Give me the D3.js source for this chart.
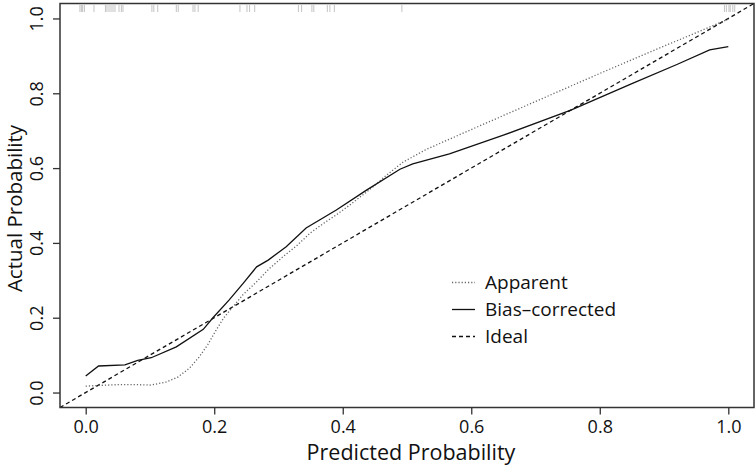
<!DOCTYPE html>
<html>
<head>
<meta charset="utf-8">
<script src="https://cdn.jsdelivr.net/npm/d3@7/dist/d3.min.js"></script>
<style>
  html, body { margin: 0; padding: 0; background: #fff; }
  svg { display: block; font-family: "Open Sans", sans-serif; }
</style>
</head>
<body>
<svg id="chart" width="756" height="466"></svg>
<script>
// ---- data ----
const xTicks = [0, 0.2, 0.4, 0.6, 0.8, 1.0];
const yTicks = [0, 0.2, 0.4, 0.6, 0.8, 1.0];
const tickLabels = ["0.0", "0.2", "0.4", "0.6", "0.8", "1.0"];

const apparentX = [0, 0.02, 0.05, 0.08, 0.102, 0.125, 0.144, 0.162, 0.177, 0.19, 0.203, 0.215, 0.229, 0.245, 0.266, 0.285, 0.307, 0.33, 0.349, 0.37, 0.39, 0.41, 0.431, 0.45, 0.468, 0.494, 0.53, 0.6, 0.7, 0.8, 0.9, 1.0];
const apparentY = [0.017, 0.019, 0.021, 0.021, 0.020, 0.028, 0.042, 0.066, 0.096, 0.128, 0.167, 0.200, 0.229, 0.262, 0.296, 0.330, 0.363, 0.395, 0.426, 0.452, 0.475, 0.500, 0.528, 0.554, 0.581, 0.616, 0.650, 0.703, 0.778, 0.853, 0.926, 0.998];

const biasX = [0, 0.02, 0.061, 0.081, 0.102, 0.141, 0.183, 0.198, 0.223, 0.245, 0.266, 0.284, 0.312, 0.343, 0.39, 0.437, 0.489, 0.509, 0.566, 0.65, 0.755, 0.85, 0.92, 0.971, 1.0];
const biasY = [0.044, 0.071, 0.074, 0.086, 0.093, 0.122, 0.169, 0.200, 0.247, 0.292, 0.336, 0.354, 0.390, 0.440, 0.488, 0.541, 0.597, 0.611, 0.638, 0.688, 0.755, 0.826, 0.877, 0.916, 0.925];

const rugValues = [-0.009, -0.0067, -0.0047, -0.002, 0.0129, 0.0307, 0.0331, 0.0363, 0.0394, 0.0425, 0.0456, 0.0518, 0.0555, 0.058, 0.103, 0.106, 0.112, 0.141, 0.144, 0.167, 0.170, 0.175, 0.240, 0.251, 0.255, 0.263, 0.331, 0.336, 0.352, 0.355, 0.376, 0.380, 0.387, 0.492, 0.994, 0.997, 1.001, 1.003, 1.007, 1.010];

const legendLabels = ["Apparent", "Bias\u2013corrected", "Ideal"];
const xTitle = "Predicted Probability";
const yTitle = "Actual Probability";

// ---- layout ----
const svg = d3.select("#chart");
const L = 60, R = 754, T = 3.5, B = 407.5;
const x = d3.scaleLinear().domain([-0.04, 1.04]).range([L, R]);
const y = d3.scaleLinear().domain([-0.04, 1.04]).range([B, T]);

const styles = {
  apparent: { stroke: "#666", width: 1.3, dash: "1.2,2" },
  bias: { stroke: "#111", width: 1.3, dash: null },
  ideal: { stroke: "#111", width: 1.3, dash: "4,3" }
};

svg.append("defs").append("clipPath").attr("id", "clip")
  .append("rect").attr("x", L).attr("y", T).attr("width", R - L).attr("height", B - T);

const plot = svg.append("g").attr("clip-path", "url(#clip)");

// ideal line
plot.append("line")
  .attr("x1", x(-0.04)).attr("y1", y(-0.04))
  .attr("x2", x(1.04)).attr("y2", y(1.04))
  .attr("stroke", styles.ideal.stroke).attr("stroke-width", styles.ideal.width)
  .attr("stroke-dasharray", styles.ideal.dash);

const line = d3.line().x(d => x(d[0])).y(d => y(d[1]));

plot.append("path")
  .datum(apparentX.map((v, i) => [v, apparentY[i]]))
  .attr("d", line).attr("fill", "none")
  .attr("stroke", styles.apparent.stroke).attr("stroke-width", styles.apparent.width)
  .attr("stroke-dasharray", styles.apparent.dash);

plot.append("path")
  .datum(biasX.map((v, i) => [v, biasY[i]]))
  .attr("d", line).attr("fill", "none")
  .attr("stroke", styles.bias.stroke).attr("stroke-width", styles.bias.width);

// rug at top
plot.selectAll("line.rug").data(rugValues).enter().append("line")
  .attr("class", "rug")
  .attr("x1", d => x(d)).attr("x2", d => x(d))
  .attr("y1", T + 1.5).attr("y2", T + 8.5)
  .attr("stroke", "#aaa").attr("stroke-width", 1).attr("stroke-opacity", 0.7);

// box
svg.append("rect").attr("x", L).attr("y", T).attr("width", R - L).attr("height", B - T)
  .attr("fill", "none").attr("stroke", "#333").attr("stroke-width", 1.5);

// axes
const fs = 18;
const xAxis = svg.append("g").attr("transform", `translate(0,${B})`)
  .call(d3.axisBottom(x).tickValues(xTicks).tickSize(7).tickPadding(6)
    .tickFormat((d, i) => tickLabels[i]));
xAxis.select(".domain").remove();
xAxis.selectAll("line").attr("stroke", "#333").attr("stroke-width", 1.3);
xAxis.selectAll("text").attr("font-size", fs).attr("fill", "#111")
  .attr("font-family", "'Open Sans', sans-serif");

const yAxis = svg.append("g").attr("transform", `translate(${L},0)`)
  .call(d3.axisLeft(y).tickValues(yTicks).tickSize(7).tickPadding(5)
    .tickFormat((d, i) => tickLabels[i]));
yAxis.select(".domain").remove();
yAxis.selectAll("line").attr("stroke", "#333").attr("stroke-width", 1.3);
yAxis.selectAll("text")
  .attr("font-size", fs).attr("fill", "#111")
  .attr("font-family", "'Open Sans', sans-serif")
  .attr("text-anchor", "middle")
  .attr("x", null).attr("dy", null)
  .attr("transform", "translate(-17,0) rotate(-90)");

// titles
svg.append("text").attr("x", (L + R) / 2 + 4).attr("y", 460)
  .attr("text-anchor", "middle").attr("font-size", 21.5).attr("fill", "#111")
  .text(xTitle);
svg.append("text")
  .attr("transform", `translate(22,${(T + B) / 2 + 3}) rotate(-90)`)
  .attr("text-anchor", "middle").attr("font-size", 20.5).attr("fill", "#111")
  .text(yTitle);

// legend
const legKeys = ["apparent", "bias", "ideal"];
const legY = [282.5, 309.5, 336.5];
const leg = svg.append("g");
legKeys.forEach((k, i) => {
  const s = styles[k];
  leg.append("line").attr("x1", 452).attr("x2", 475).attr("y1", legY[i]).attr("y2", legY[i])
    .attr("stroke", s.stroke).attr("stroke-width", s.width)
    .attr("stroke-dasharray", s.dash);
  leg.append("text").attr("x", 485).attr("y", legY[i]).attr("dy", "0.35em")
    .attr("font-size", 19).attr("fill", "#111").text(legendLabels[i]);
});
</script>
</body>
</html>
